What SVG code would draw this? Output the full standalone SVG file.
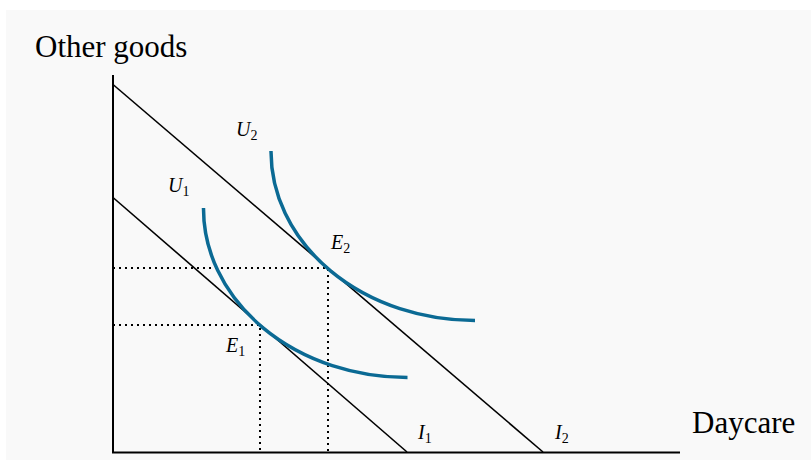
<svg xmlns="http://www.w3.org/2000/svg" width="811" height="460" viewBox="0 0 811 460">
<style>
.axis{stroke:#000;stroke-width:2;fill:none}
.budget{stroke:#000;stroke-width:1.6;fill:none}
.dot{stroke:#000;stroke-width:2;stroke-dasharray:2 4;fill:none}
.curve{stroke:#0b6a94;stroke-width:3.5;fill:none}
.lbl{font-family:"Liberation Serif","Times New Roman",serif;font-size:31px;fill:#000}
.m{font-family:"Liberation Serif","Times New Roman",serif;font-size:20px;font-style:italic;fill:#000}
.sub{font-style:normal;font-size:14px}
</style>
<rect x="0" y="0" width="811" height="460" fill="#ffffff"/>
<rect x="6" y="10" width="805" height="450" fill="#f9f9f9"/>
<g id="connectors">
<path class="axis" d="M113,75 V452.5 H680"/>
<line id="I1-line" class="budget" x1="113" y1="197.5" x2="407" y2="452"/>
<line id="I2-line" class="budget" x1="113" y1="84.5" x2="543" y2="452"/>
<path class="dot" d="M113,268 H328 V452"/>
<path class="dot" d="M113,325 H260 V452"/>
</g>
<g id="U2"><path class="curve" d="M271,151 A204,169 0 0 0 475,320.5"/><text class="m" x="236" y="136">U<tspan class="sub" dy="4">2</tspan></text></g>
<g id="U1"><path class="curve" d="M203.5,208 A204,169 0 0 0 407.5,377.5"/><text class="m" x="168" y="192">U<tspan class="sub" dy="4">1</tspan></text></g>
<g id="E2"><text class="m" x="331" y="249">E<tspan class="sub" dy="4">2</tspan></text></g>
<g id="E1"><text class="m" x="226" y="352">E<tspan class="sub" dy="4">1</tspan></text></g>
<g id="I1"><text class="m" x="418" y="439">I<tspan class="sub" dy="4">1</tspan></text></g>
<g id="I2"><text class="m" x="555" y="439">I<tspan class="sub" dy="4">2</tspan></text></g>
<g id="yaxis-label"><text class="lbl" x="35" y="57">Other goods</text></g>
<g id="xaxis-label"><text class="lbl" x="692" y="433">Daycare</text></g>
</svg>
